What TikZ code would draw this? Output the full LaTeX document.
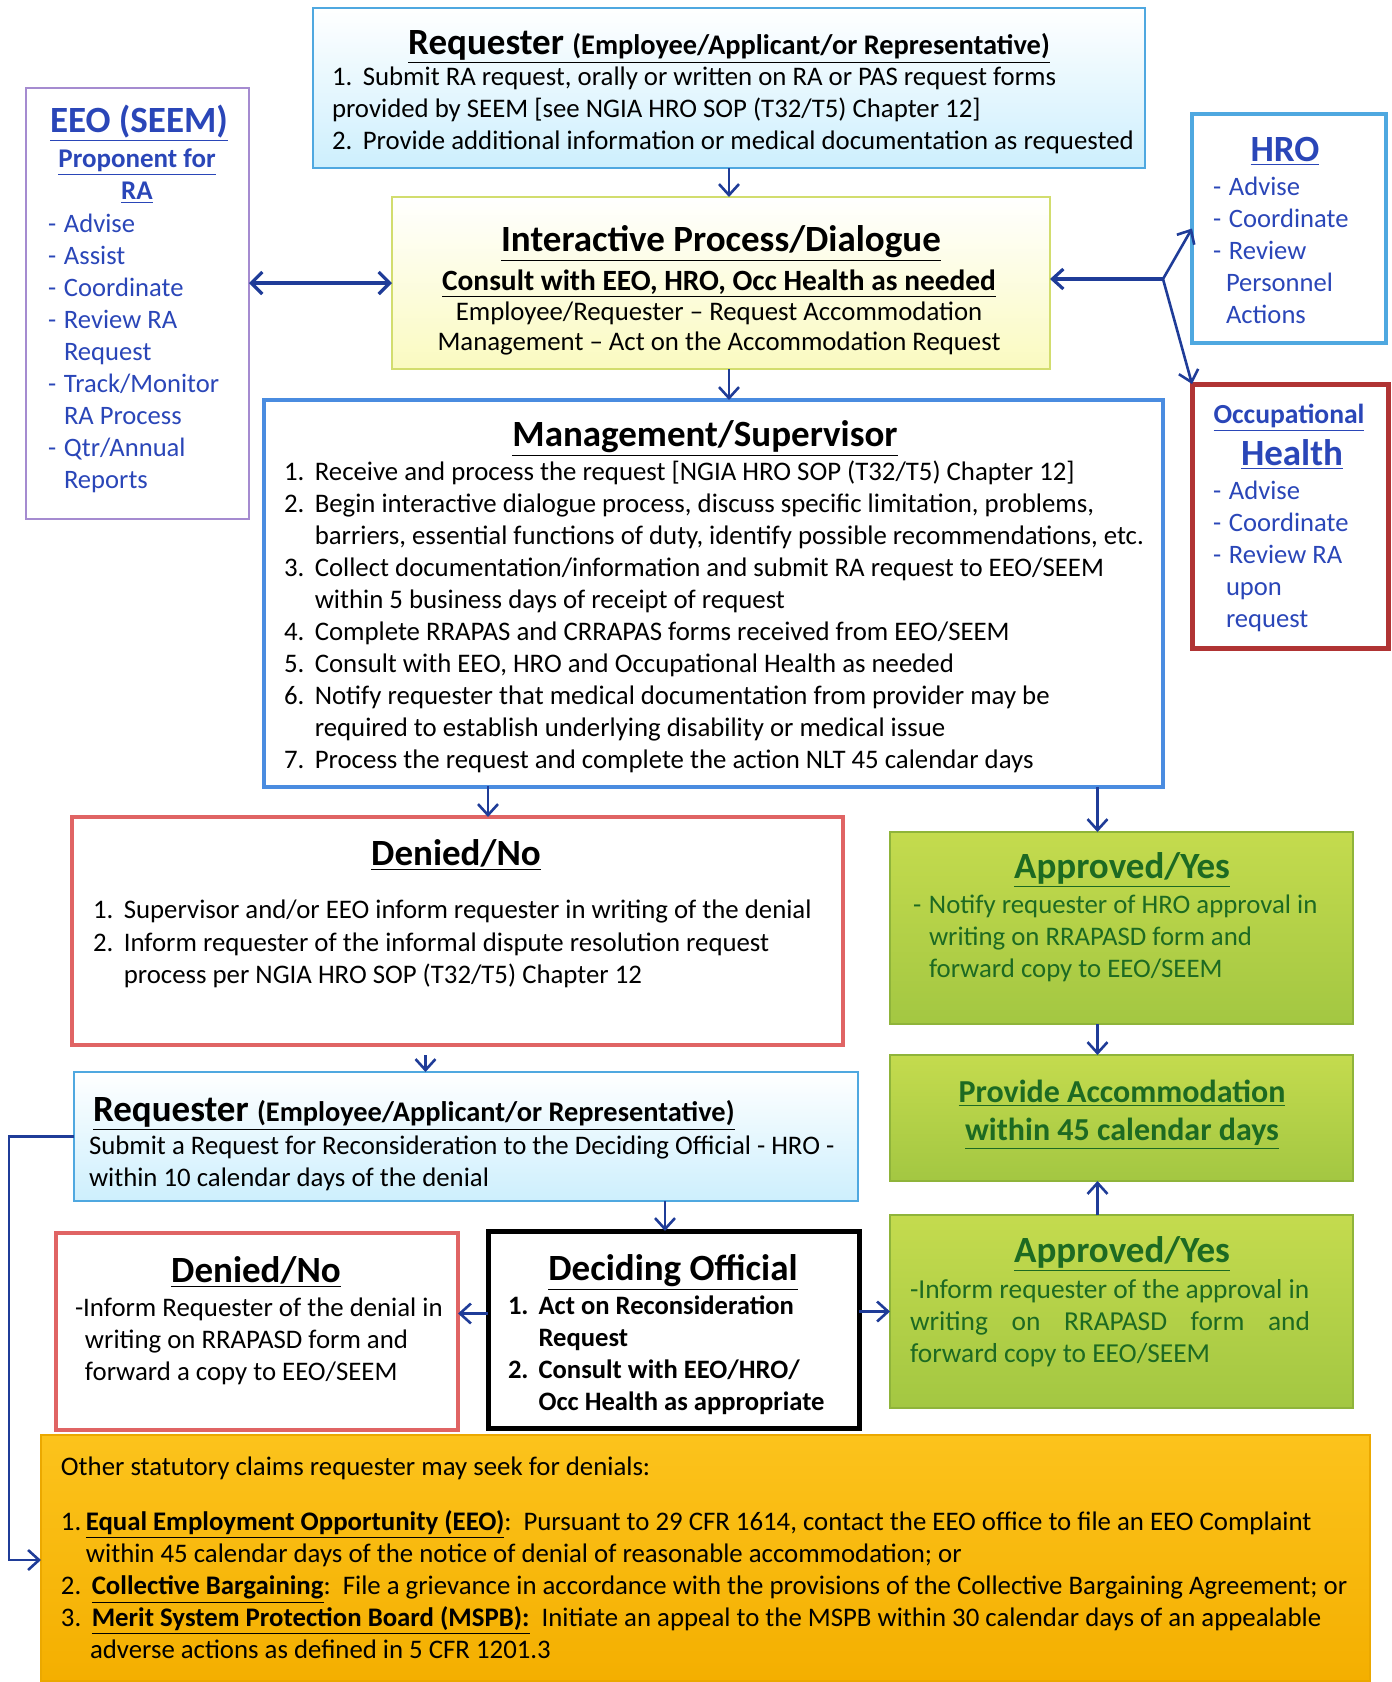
\documentclass[tikz,border=0pt]{standalone}
\usepackage{fontspec}
\setmainfont{Carlito}
\usetikzlibrary{arrows.meta,shadings}

\definecolor{linkblue}{HTML}{2A46B8}
\definecolor{arrowblue}{HTML}{1F3C98}
\definecolor{skyline}{HTML}{4FA8E0}
\definecolor{skyfill}{HTML}{CDEFFD}
\definecolor{lilac}{HTML}{A58BD0}
\definecolor{limeline}{HTML}{D2DD6E}
\definecolor{limefill}{HTML}{FAFAC0}
\definecolor{mgmtblue}{HTML}{4A8CE0}
\definecolor{rosered}{HTML}{E06464}
\definecolor{brickred}{HTML}{B03434}
\definecolor{greentop}{HTML}{C4DB4E}
\definecolor{greenbot}{HTML}{A3C742}
\definecolor{greenline}{HTML}{8FB43A}
\definecolor{darkgreen}{HTML}{1D6A22}
\definecolor{goldtop}{HTML}{FCC31C}
\definecolor{goldbot}{HTML}{F4AF00}
\definecolor{goldline}{HTML}{EBA800}

\newcommand{\ttl}[1]{\underline{\textbf{#1}}}
\newcommand{\nb}[1]{\makebox[1.15em][l]{#1}}
\newcommand{\hg}{\hspace*{1.15em}}
\newcommand{\dsh}{\makebox[8pt][l]{-}}

\begin{document}
\begin{tikzpicture}[x=0.5pt,y=-0.5pt,
    every node/.style={inner sep=0pt, outer sep=0pt},
    box/.style={draw, line width=1.3pt, anchor=north west},
    skybox/.style={box, draw=skyline, top color=white, bottom color=skyfill},
    limebox/.style={box, draw=limeline, top color=white, bottom color=limefill},
    greenbox/.style={box, draw=greenline, top color=greentop, bottom color=greenbot},
    head/.style={font=\fontsize{18.5}{22}\selectfont, anchor=base},
    body/.style={font=\fontsize{13.4}{16}\selectfont, align=left, anchor=north west},
    side/.style={font=\fontsize{13.3}{16}\selectfont, align=left, anchor=north west, text=linkblue},
    link/.style={draw=arrowblue, line width=1.3pt, -{Straight Barb[length=5.5pt,width=10pt]}}]
\useasboundingbox (0,0) rectangle (1392,1682);

% boxes
\node[skybox, minimum width=416pt, minimum height=80pt] (reqA) at (313,8) {};
\node[box, draw=lilac, minimum width=111.5pt, minimum height=215.5pt] (eeo) at (26,88) {};
\node[limebox, minimum width=329pt, minimum height=86pt] (dialog) at (392,197) {};
\node[box, draw=skyline, line width=1.8pt, minimum width=97pt, minimum height=114.5pt] (hro) at (1192,114) {};
\node[box, draw=brickred, line width=2.5pt, minimum width=98pt, minimum height=132pt] (occ) at (1192,384) {};
\node[box, draw=mgmtblue, line width=2pt, minimum width=449.5pt, minimum height=193.5pt] (mgmt) at (264,400) {};
\node[box, draw=rosered, line width=1.8pt, minimum width=385.5pt, minimum height=114pt] (deniedA) at (72,817) {};
\node[greenbox, minimum width=231.5pt, minimum height=96pt] (apprA) at (890,832) {};
\node[skybox, minimum width=392pt, minimum height=64.5pt] (reqB) at (74,1072) {};
\node[greenbox, minimum width=231.5pt, minimum height=63pt] (provide) at (890,1055) {};
\node[box, draw=rosered, line width=1.8pt, minimum width=201pt, minimum height=98.5pt] (deniedB) at (56,1233) {};
\node[box, draw=black, line width=2.5pt, minimum width=185.5pt, minimum height=98.5pt] (deciding) at (488,1231) {};
\node[greenbox, minimum width=231.5pt, minimum height=96.5pt] (apprB) at (890,1215) {};
\node[box, draw=goldline, top color=goldtop, bottom color=goldbot, minimum width=664.5pt, minimum height=123pt] (claims) at (41,1435) {};

% requester
\node[head] (reqAt) at (729,54) {\ttl{Requester \fontsize{14.2}{16}\selectfont(Employee/Applicant/or Representative)}};
\node[body] (reqAb) at (332,67) {\nb{1.}Submit RA request, orally or written on RA or PAS request forms\\
provided by SEEM [see NGIA HRO SOP (T32/T5) Chapter 12]\\
\nb{2.}Provide additional information or medical documentation as requested};

% EEO
\node[head, text=linkblue] (eeot) at (139,132) {\ttl{EEO (SEEM)}};
\node[font=\fontsize{13.5}{16}\selectfont, align=center, anchor=north, text=linkblue] (eeop) at (137,149) {\ttl{Proponent for}\\\ttl{RA}};
\node[side] (eeob) at (48,214) {\dsh Advise\\\dsh Assist\\\dsh Coordinate\\\dsh Review RA\\\hspace*{8pt}Request\\
\dsh Track/Monitor\\\hspace*{8pt}RA Process\\\dsh Qtr/Annual\\\hspace*{8pt}Reports};

% dialogue
\node[head] (dialogt) at (721,251) {\ttl{Interactive Process/Dialogue}};
\node[font=\fontsize{14.7}{16}\selectfont, anchor=base] (dialogs) at (719,290) {\ttl{Consult with EEO, HRO, Occ Health as needed}};
\node[font=\fontsize{13.4}{15}\selectfont, align=center, anchor=north] (dialogb) at (719,302) {Employee/Requester -- Request Accommodation\\Management -- Act on the Accommodation Request};

% HRO
\node[head, text=linkblue] (hrot) at (1285,161) {\ttl{HRO}};
\node[side] (hrob) at (1213,177) {\dsh Advise\\\dsh Coordinate\\\dsh Review\\\hspace*{6.5pt}Personnel\\\hspace*{6.5pt}Actions};

% occupational health
\node[font=\fontsize{13.8}{16}\selectfont, anchor=base, text=linkblue] (occt) at (1289,423) {\ttl{Occupational}};
\node[head, text=linkblue] (occh) at (1292,465) {\ttl{Health}};
\node[side] (occb) at (1213,481) {\dsh Advise\\\dsh Coordinate\\\dsh Review RA\\\hspace*{6.5pt}upon\\\hspace*{6.5pt}request};

% management
\node[head] (mgmtt) at (705,446) {\ttl{Management/Supervisor}};
\node[body] (mgmtb) at (284,461) {\nb{1.}Receive and process the request [NGIA HRO SOP (T32/T5) Chapter 12]\\
\nb{2.}Begin interactive dialogue process, discuss specific limitation, problems,\\
\hg barriers, essential functions of duty, identify possible recommendations, etc.\\
\nb{3.}Collect documentation/information and submit RA request to EEO/SEEM\\
\hg within 5 business days of receipt of request\\
\nb{4.}Complete RRAPAS and CRRAPAS forms received from EEO/SEEM\\
\nb{5.}Consult with EEO, HRO and Occupational Health as needed\\
\nb{6.}Notify requester that medical documentation from provider may be\\
\hg required to establish underlying disability or medical issue\\
\nb{7.}Process the request and complete the action NLT 45 calendar days};

% denied
\node[head] (deniedAt) at (456,865) {\ttl{Denied/No}};
\node[body, font=\fontsize{13.4}{16.3}\selectfont] (deniedAb) at (93,900) {\nb{1.}Supervisor and/or EEO inform requester in writing of the denial\\
\nb{2.}Inform requester of the informal dispute resolution request\\
\hg process per NGIA HRO SOP (T32/T5) Chapter 12};

% approved
\node[head, text=darkgreen] (apprAt) at (1122,878) {\ttl{Approved/Yes}};
\node[body, text=darkgreen] (apprAb) at (913,895) {\dsh Notify requester of HRO approval in\\
\hspace*{8pt}writing on RRAPASD form and\\\hspace*{8pt}forward copy to EEO/SEEM};

% reconsideration request
\node[head, anchor=base west] (reqBt) at (93,1121) {\ttl{Requester \fontsize{14.2}{16}\selectfont(Employee/Applicant/or Representative)}};
\node[body] (reqBb) at (89,1136) {Submit a Request for Reconsideration to the Deciding Official - HRO -\\
within 10 calendar days of the denial};

% provide
\node[font=\fontsize{16}{19}\selectfont\bfseries, align=center, anchor=north, text=darkgreen] (providet) at (1122,1080) {\ttl{Provide Accommodation}\\\ttl{within 45 calendar days}};

% second denial
\node[head] (deniedBt) at (256,1282) {\ttl{Denied/No}};
\node[body] (deniedBb) at (75,1298) {-Inform Requester of the denial in\\
\hspace*{5pt}writing on RRAPASD form and\\\hspace*{5pt}forward a copy to EEO/SEEM};

% deciding official
\node[head] (decidingt) at (673,1280) {\ttl{Deciding Official}};
\node[body, font=\fontsize{13.3}{16}\selectfont\bfseries] (decidingb) at (508,1296) {\nb{1.}Act on Reconsideration\\\hg Request\\
\nb{2.}Consult with EEO/HRO/\\\hg Occ Health as appropriate};

% second approval
\node[head, text=darkgreen] (apprBt) at (1122,1262) {\ttl{Approved/Yes}};
\node[body, font=\fontsize{13.7}{16}\selectfont, text=darkgreen] (apprBb) at (910,1279) {-Inform requester of the approval in\\
\makebox[200pt][s]{writing on RRAPASD form and}\\forward copy to EEO/SEEM};

% statutory claims
\node[body] (claimsb) at (61,1457) {Other statutory claims requester may seek for denials:\\[11.5pt]
1.\,\ttl{Equal Employment Opportunity (EEO)}:\ \ Pursuant to 29 CFR 1614, contact the EEO office to file an EEO Complaint\\
\hspace*{12.5pt}within 45 calendar days of the notice of denial of reasonable accommodation; or\\
\nb{2.}\ttl{Collective Bargaining}:\ \ File a grievance in accordance with the provisions of the Collective Bargaining Agreement; or\\
\nb{3.}\ttl{Merit System Protection Board (MSPB):}\ \ Initiate an appeal to the MSPB within 30 calendar days of an appealable\\
\hspace*{14.5pt}adverse actions as defined in 5 CFR 1201.3};

% connectors
\coordinate (hub) at (1163,279);
\draw[link] (reqA.south) -- (reqA.south |- dialog.north);
\draw[link, line width=1.6pt, {Straight Barb[length=5.5pt,width=11pt]}-{Straight Barb[length=5.5pt,width=11pt]}] (eeo.east |- dialog.west) -- (dialog.west);
\draw[link, line width=1.6pt] (hub) -- (hub -| dialog.east);
\draw[link] (hub) -- (hro.west);
\draw[link] (hub) -- (occ.north west);
\draw[link] (reqA.south |- dialog.south) -- (reqA.south |- mgmt.north);
\draw[link] (deniedA.north -| 488,0) ++(0,-31) -- (deniedA.north -| 488,0);
\draw[link] ([xshift=-12pt]apprA.north |- mgmt.south) -- ([xshift=-12pt]apprA.north);
\draw[link] ([xshift=-16pt,yshift=-5pt]deniedA.south) -- ([xshift=-16pt]deniedA.south |- reqB.north);
\draw[link] ([xshift=-12pt]apprA.south) -- ([xshift=-12pt]provide.north);
\draw[link] ([xshift=-4pt]reqB.south -| decidingt) -- ([xshift=-4pt]deciding.north -| decidingt);
\draw[link] ([xshift=-12pt]apprB.north) -- ([xshift=-12pt]provide.south);
\draw[link] ([yshift=8pt]deciding.west) -- ([yshift=8pt]deciding.west -| deniedB.east);
\draw[link] (deciding.east |- apprB.west) -- (apprB.west);
\draw[link] (reqB.west) -| (9,1560) -- (claims.west |- 0,1560);
\end{tikzpicture}
\end{document}
